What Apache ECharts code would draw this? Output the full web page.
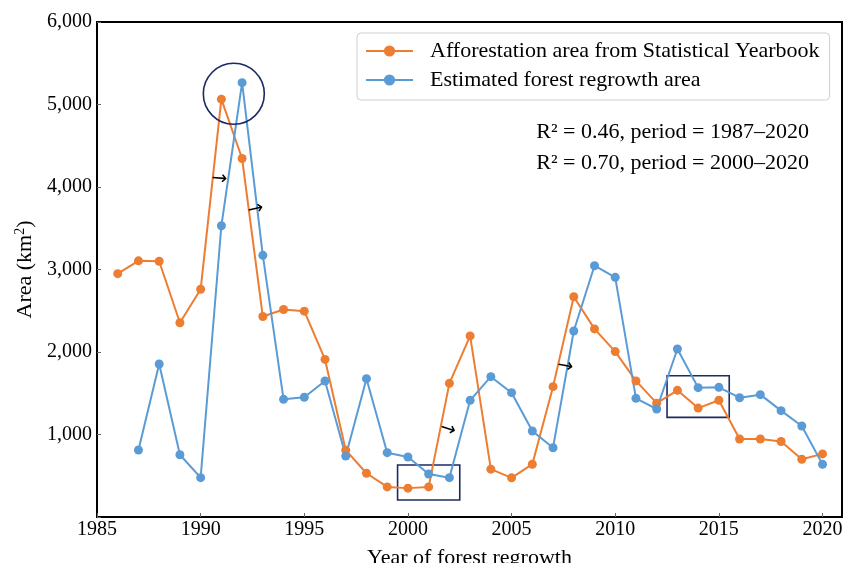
<!DOCTYPE html>
<html>
<head>
<meta charset="utf-8">
<script src="https://cdn.jsdelivr.net/npm/echarts@6/dist/echarts.min.js"></script>
<style>html,body{margin:0;padding:0;background:#fff}#c{width:843px;height:563px}</style>
</head>
<body>
<div id="c"></div>
<script>
// ---- data ----
var yearsOrange = [1986,1987,1988,1989,1990,1991,1992,1993,1994,1995,1996,1997,1998,1999,2000,2001,2002,2003,2004,2005,2006,2007,2008,2009,2010,2011,2012,2013,2014,2015,2016,2017,2018,2019,2020];
var afforestation = [2950,3105,3100,2355,2760,5065,4345,2430,2515,2495,1910,810,530,365,350,365,1620,2195,580,475,640,1580,2670,2280,2005,1650,1380,1535,1320,1415,945,945,915,700,765];
var yearsBlue = [1987,1988,1989,1990,1991,1992,1993,1994,1995,1996,1997,1998,1999,2000,2001,2002,2003,2004,2005,2006,2007,2008,2009,2010,2011,2012,2013,2014,2015,2016,2017,2018,2019,2020];
var regrowth = [812,1855,755,477,3530,5265,3172,1426,1451,1648,739,1677,780,727,521,477,1414,1701,1507,1042,840,2255,3046,2905,1438,1309,2036,1568,1572,1446,1483,1289,1103,638];
var seriesNames = ['Afforestation area from Statistical Yearbook','Estimated forest regrowth area'];
var statLines = ['R\u00b2 = 0.46, period = 1987\u20132020','R\u00b2 = 0.70, period = 2000\u20132020'];
// annotations (data coordinates)
var circleAt = [1991.6, 5130];
var arrows = [[1990.9, 4097, -5],[1992.65, 3727, 13],[2001.92, 1061, -18],[2007.59, 1824, -10]];
var boxes = [[[1999.5, 630],[2002.5, 206]],[[2012.5, 1712],[2015.5, 1208]]];

var FONT = 'Liberation Serif';
var navy = '#1b2a63';
var chart = echarts.init(document.getElementById('c'), null, {renderer:'canvas'});

function pairs(xs, ys){ return xs.map(function(x,i){return [x, ys[i]];}); }

var arrowPoints = arrows.map(function(a){
  return {coord:[a[0],a[1]], symbol:'circle', symbolSize:1, itemStyle:{color:'rgba(0,0,0,0)'},
    label:{show:true, position:'inside', formatter:'\u2192', rotate:a[2], fontFamily:'DejaVu Sans', fontSize:19, color:'#000'}};
});

chart.setOption({
  animation:false,
  backgroundColor:'#fff',
  grid:{left:97, top:22, width:745, height:495, show:true, borderColor:'#000', borderWidth:2, backgroundColor:'transparent', containLabel:false, outerBoundsMode:'none'},
  legend:{
    orient:'vertical', left:357, top:33,
    padding:[7,10,9,8], itemGap:7, itemWidth:47, itemHeight:14,
    borderColor:'#d0d0d0', borderWidth:1, borderRadius:4,
    textStyle:{fontFamily:FONT, fontSize:22, color:'#000', padding:[0,0,0,12]},
    data:seriesNames
  },
  xAxis:{
    type:'value', min:1985, max:2020.94, interval:5,
    name:'Year of forest regrowth', nameLocation:'middle', nameGap:30,
    nameTextStyle:{fontFamily:FONT, fontSize:22, color:'#000'},
    axisLine:{show:true, lineStyle:{color:'#000', width:2}},
    axisTick:{show:true, inside:true, length:4, lineStyle:{color:'#666', width:1}},
    axisLabel:{fontFamily:FONT, fontSize:20, color:'#000', margin:3, formatter:function(v){return String(v);}},
    splitLine:{show:false}
  },
  yAxis:{
    type:'value', min:0, max:6000, interval:1000,
    name:'Area (km{sup|2})', nameLocation:'middle', nameGap:53,
    nameTextStyle:{fontFamily:FONT, fontSize:22, color:'#000', rich:{sup:{fontFamily:FONT, fontSize:14, verticalAlign:'top', padding:[0,0,10,0], color:'#000'}}},
    axisLine:{show:true, lineStyle:{color:'#000', width:2}},
    axisTick:{show:true, inside:true, length:4, lineStyle:{color:'#666', width:1}},
    axisLabel:{fontFamily:FONT, fontSize:20, color:'#000', margin:5, formatter:function(v){return v===0?'':v.toLocaleString('en-US');}},
    splitLine:{show:false}
  },
  graphic:[
    {type:'text', right:34, top:121, style:{text:statLines[0], font:'22px "Liberation Serif"', fill:'#000'}},
    {type:'text', right:34, top:152, style:{text:statLines[1], font:'22px "Liberation Serif"', fill:'#000'}}
  ],
  series:[
    {name:seriesNames[0], type:'line', data:pairs(yearsOrange, afforestation),
      symbol:'circle', symbolSize:9, color:'#ED7D31', lineStyle:{width:2},
      markPoint:{silent:true, data:[{coord:circleAt, symbol:'circle', symbolSize:61, itemStyle:{color:'rgba(0,0,0,0)', borderColor:navy, borderWidth:1.6}, label:{show:false}}].concat(arrowPoints)}
    },
    {name:seriesNames[1], type:'line', data:pairs(yearsBlue, regrowth),
      symbol:'circle', symbolSize:9, color:'#5B9BD5', lineStyle:{width:2},
      markArea:{silent:true, itemStyle:{color:'rgba(0,0,0,0)', borderColor:navy, borderWidth:1.6},
        data:boxes.map(function(b){return [{coord:b[0]},{coord:b[1]}];})}
    }
  ]
});
</script>
</body>
</html>
